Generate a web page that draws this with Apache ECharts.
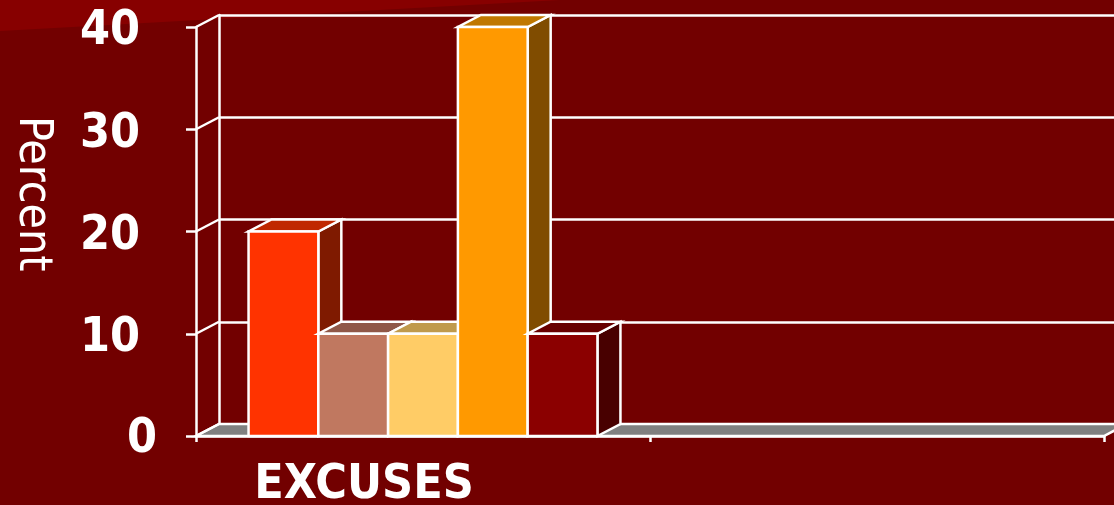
<!DOCTYPE html>
<html>
<head>
<meta charset="utf-8">
<script src="https://cdn.jsdelivr.net/npm/echarts@6/dist/echarts.min.js"></script>
<style>
html,body{margin:0;padding:0;background:#720000;}
#chart{width:1114px;height:505px;}
</style>
</head>
<body>
<div id="chart"></div>
<script>
// ---- data ----
const categories = ['EXCUSES', ''];
const seriesNames = ['Excuse A', 'Excuse B', 'Excuse C', 'Excuse D', 'Excuse E'];
const excuseA = [20, null];
const excuseB = [10, null];
const excuseC = [10, null];
const excuseD = [40, null];
const excuseE = [10, null];
const yTicks = [0, 10, 20, 30, 40];
const yAxisTitle = 'Percent';

// ---- style ----
const allValues = [excuseA, excuseB, excuseC, excuseD, excuseE];
const frontColors = ['#FF3300', '#C07860', '#FFCC66', '#FF9900', '#8B0000'];
const topColors   = ['#C02800', '#905848', '#C09A4C', '#C07800', '#680000'];
const sideColors  = ['#7F1A00', '#603828', '#806630', '#804C00', '#480000'];
const DX = 23, DY = -12;
const GRID = {left: 196, top: 27, right: 10, bottom: 69};
const BAR_FRAC = 0.1537;
const FONT = '"DejaVu Sans Condensed", "DejaVu Sans", sans-serif';
const LW = 2.5;

const chart = echarts.init(document.getElementById('chart'), null, {renderer: 'canvas'});

function barRenderer(idx) {
  return function (params, api) {
    const c = api.value(0), v = api.value(1);
    const base = api.coord([c, 0]);
    const top = api.coord([c, v]);
    const band = api.size([1, 0])[0];
    const bw = band * BAR_FRAC;
    const n = allValues.length;
    const x0 = base[0] - bw * n / 2 + idx * bw;
    const x1 = x0 + bw;
    const yt = top[1], yb = base[1];
    const st = {stroke: '#fff', lineWidth: LW, lineJoin: 'miter'};
    return {
      type: 'group',
      children: [
        {type: 'polygon', shape: {points: [[x1, yt], [x1 + DX, yt + DY], [x1 + DX, yb + DY], [x1, yb]]},
         style: Object.assign({fill: sideColors[idx]}, st)},
        {type: 'polygon', shape: {points: [[x0, yt], [x1, yt], [x1 + DX, yt + DY], [x0 + DX, yt + DY]]},
         style: Object.assign({fill: topColors[idx]}, st)},
        {type: 'rect', shape: {x: x0, y: yt, width: bw, height: yb - yt},
         style: Object.assign({fill: frontColors[idx]}, st)}
      ]
    };
  };
}

function frameRenderer(params, api) {
  const cs = params.coordSys;
  const children = [];
  const x0 = cs.x, x1 = cs.x + cs.width;
  const y0 = api.coord([0, 0])[1];
  children.push({type: 'polygon',
    shape: {points: [[x0, y0], [x1, y0], [x1 + DX, y0 + DY], [x0 + DX, y0 + DY]]},
    style: {fill: '#808080', stroke: '#fff', lineWidth: LW}});
  yTicks.forEach(function (t) {
    const y = api.coord([0, t])[1];
    children.push({type: 'line', shape: {x1: x0, y1: y, x2: x0 + DX, y2: y + DY},
      style: {stroke: '#fff', lineWidth: LW}});
  });
  return {type: 'group', children: children};
}

const series = [
  {type: 'custom', name: 'frame', xAxisIndex: 0, yAxisIndex: 0, z: 1,
   renderItem: frameRenderer, data: [[0, 0]], silent: true}
];
allValues.forEach(function (vals, i) {
  series.push({
    type: 'custom', name: seriesNames[i], xAxisIndex: 0, yAxisIndex: 0, z: 2 + i,
    renderItem: barRenderer(i),
    data: vals.map(function (v, c) { return [c, v]; }).filter(function (d) { return d[1] != null; })
  });
});

const option = {
  backgroundColor: '#720000',
  animation: false,
  graphic: [
    {type: 'polygon', z: -10, silent: true,
     shape: {points: [[0, 0], [560, 0], [0, 31]]}, style: {fill: '#870000'}},
    {type: 'text', z: 10, left: 9, top: 116, rotation: -Math.PI / 2,
     style: {text: yAxisTitle, fill: '#fff', font: '46px ' + FONT}}
  ],
  grid: [
    {left: GRID.left, top: GRID.top, right: GRID.right, bottom: GRID.bottom,
     containLabel: false, outerBoundsMode: 'none'},
    {left: GRID.left + DX, top: GRID.top + DY, right: GRID.right - DX, bottom: GRID.bottom - DY,
     containLabel: false, outerBoundsMode: 'none'}
  ],
  xAxis: [
    {type: 'category', gridIndex: 0, data: categories, boundaryGap: true,
     axisLine: {lineStyle: {color: '#fff', width: LW}},
     axisTick: {show: true, length: 6, lineStyle: {color: '#fff', width: LW}},
     axisLabel: {color: '#fff', fontFamily: FONT, fontWeight: 'bold', fontSize: 48, margin: 26,
                 padding: [0, 118, 0, 0]},
     splitLine: {show: false}},
    {type: 'category', gridIndex: 1, data: categories, show: false}
  ],
  yAxis: [
    {type: 'value', gridIndex: 0, min: 0, max: 40, interval: 10,
     axisLine: {show: true, lineStyle: {color: '#fff', width: LW}},
     axisTick: {show: true, length: 10, lineStyle: {color: '#fff', width: LW}},
     splitLine: {show: false},
     axisLabel: {margin: 39,
       formatter: function (v) { return v === 0 ? '{z|0}' : '{n|' + v + '}'; },
       rich: {
         n: {color: '#fff', fontFamily: FONT, fontWeight: 'bold', fontSize: 48, padding: [10, 17, 0, 0]},
         z: {color: '#fff', fontFamily: FONT, fontWeight: 'bold', fontSize: 48, padding: [8, 0, 0, 0]}
       }}},
    {type: 'value', gridIndex: 1, min: 0, max: 40, interval: 10,
     axisLine: {show: true, lineStyle: {color: '#fff', width: LW}},
     axisTick: {show: false}, axisLabel: {show: false},
     splitLine: {show: true, lineStyle: {color: '#fff', width: LW}}}
  ],
  series: series
};
chart.setOption(option);
</script>
</body>
</html>
